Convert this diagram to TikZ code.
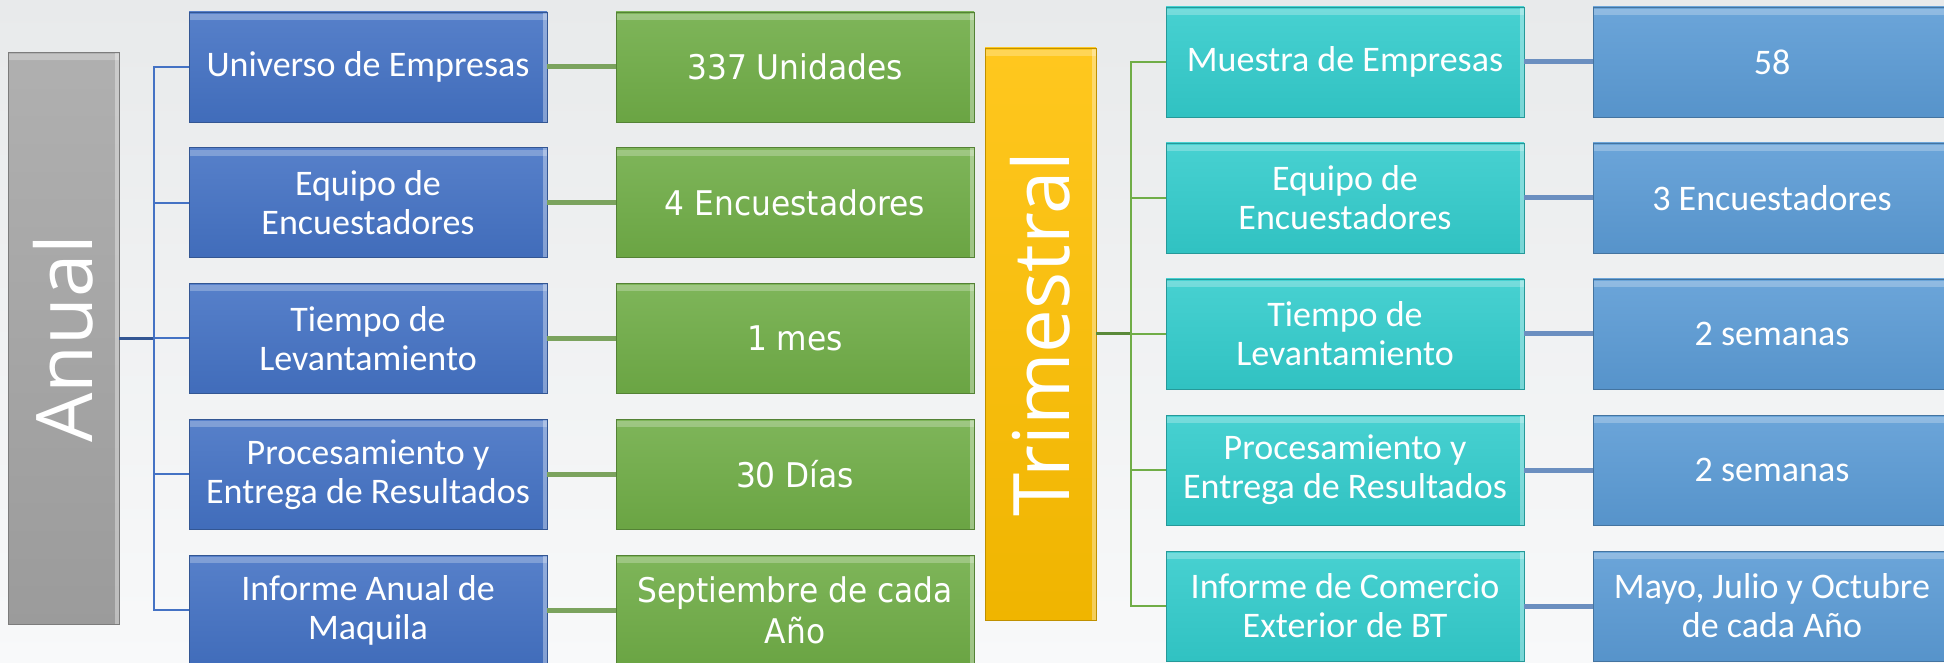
\documentclass[tikz,border=0pt]{standalone}
\usepackage{fontspec}
\setmainfont{Carlito}
\newfontfamily\titlefont{Open Sans}
\newfontfamily\valuefont[FakeStretch=0.92]{DejaVu Sans}
\usetikzlibrary{positioning}

\definecolor{anualgray}{HTML}{A5A5A5}
\definecolor{unitblue}{HTML}{4472C4}
\definecolor{valgreen}{HTML}{70AD47}
\definecolor{trimgold}{HTML}{FFC000}
\definecolor{unitteal}{HTML}{33CCCC}
\definecolor{valblue}{HTML}{5B9BD5}
\definecolor{linkgreen}{HTML}{7BA35E}
\definecolor{linkblue}{HTML}{6B8FC0}
\definecolor{bgtop}{HTML}{E8EAEB}
\definecolor{bgbottom}{HTML}{F8F9FA}

\begin{document}
\begin{tikzpicture}
    [x=.5pt, y=-.5pt,
     font=\fontsize{18}{19.5}\selectfont,
     bevel/.style={path picture={
         \fill[white, opacity=.25] ([yshift=-1pt]path picture bounding box.north west)
             rectangle ([yshift=-4pt]path picture bounding box.north east);
         \fill[white, opacity=.35] ([xshift=-2pt]path picture bounding box.north east)
             rectangle (path picture bounding box.south east);}},
     box/.style={rectangle, minimum width=179pt, minimum height=55pt,
         inner sep=1pt, align=center, text=white,
         top color=#1!90!white, bottom color=#1!95!black,
         draw=#1!75!black, line width=.3pt, bevel},
     valbox/.style={box=#1, font=\valuefont\fontsize{17}{20.5}\selectfont},
     sidebox/.style={rectangle, minimum width=55.5pt, minimum height=286pt,
         top color=#1!88!white, bottom color=#1!94!black,
         draw=#1!75!black, line width=.3pt, bevel},
     sidetext/.style={rotate=90, text=white, font=\titlefont\fontsize{39}{40}\selectfont},
     trunk/.style={draw=#1, line width=1.5pt},
     branch/.style={draw=#1, line width=1pt},
     link/.style={draw=#1, line width=2.5pt},
    ]
    \useasboundingbox (0,0) rectangle (1944,663);
    \clip (0,0) rectangle (1944,663);
    % Background
    \fill[top color=bgtop, bottom color=bgbottom] (0,0) rectangle (1944,663);

    % Anual
    \node[sidebox=anualgray] (anual) at (63.5, 338.5) {};
    \node[sidetext] (anualtxt) at (anual) {Anual};
    \coordinate (ltrunk) at (154, 338.5);
    \draw[trunk=unitblue!75!black] (anual.east) -- (ltrunk);
    \foreach \unit / \val [count=\i] in
             {Universo de Empresas/337 Unidades,
              Equipo de\\Encuestadores/4 Encuestadores,
              Tiempo de\\Levantamiento/1 mes,
              Procesamiento y\\Entrega de Resultados/30 Días,
              Informe Anual de\\Maquila/Septiembre de cada\\Año} {
        \node[box=unitblue] (u\i) at (368, {67+135.75*(\i-1)}) {\unit};
        \node[valbox=valgreen] (g\i) at (795, {67+135.75*(\i-1)}) {\val};
        \draw[branch=unitblue] (ltrunk) |- (u\i.west);
        \draw[link=linkgreen] (u\i.east) -- (g\i.west);
    }

    % Trimestral
    \node[sidebox=trimgold] (trim) at (1040.5, 334) {};
    \node[sidetext] (trimtxt) at (trim) {Trimestral};
    \coordinate (rtrunk) at (1131, 334);
    \draw[trunk=valgreen!80!black] (trim.east) -- (rtrunk);
    \foreach \unit / \val [count=\i] in
             {Muestra de Empresas/58,
              Equipo de\\Encuestadores/3 Encuestadores,
              Tiempo de\\Levantamiento/2 semanas,
              Procesamiento y\\Entrega de Resultados/2 semanas,
              {Informe de Comercio\\Exterior de BT/Mayo, Julio y Octubre\\de cada Año}} {
        \node[box=unitteal] (t\i) at (1345, {62+136*(\i-1)}) {\unit};
        \node[box=valblue] (b\i) at (1772, {62+136*(\i-1)}) {\val};
        \draw[branch=valgreen] (rtrunk) |- (t\i.west);
        \draw[link=linkblue] (t\i.east) -- (b\i.west);
    }
\end{tikzpicture}
\end{document}
